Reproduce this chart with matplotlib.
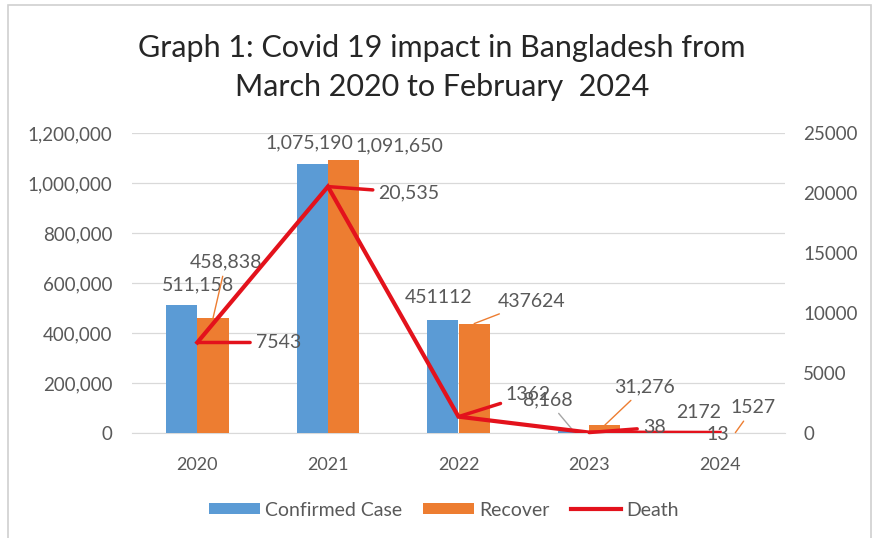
import matplotlib
matplotlib.use("Agg")
import matplotlib.pyplot as plt
from matplotlib.patches import Rectangle
import numpy as np

plt.rcParams['font.family'] = ['Lato', 'DejaVu Sans']

years = ["2020", "2021", "2022", "2023", "2024"]
confirmed = [511158, 1075190, 451112, 8168, 2172]
recover = [458838, 1091650, 437624, 31276, 1527]
death = [7543, 20535, 1362, 38, 13]

confirmed_labels = ["511,158", "1,075,190", "451112", "8,168", "2172"]
recover_labels = ["458,838", "1,091,650", "437624", "31,276", "1527"]
death_labels = ["7543", "20,535", "1362", "38", "13"]

left_ticks = [0, 200000, 400000, 600000, 800000, 1000000, 1200000]
right_ticks = [0, 5000, 10000, 15000, 20000, 25000]

BLUE = "#5b9bd5"
ORANGE = "#ed7d31"
RED = "#e3121c"
GREY_TXT = "#595959"
GRID = "#d9d9d9"

W, H = 876, 538
fig = plt.figure(figsize=(W / 100, H / 100), dpi=100)
fig.patch.set_facecolor("white")

# chart border
fig.patches.append(Rectangle((8 / W, -0.02), (871 - 8) / W, (538 - 5) / H + 0.02,
                             transform=fig.transFigure, fill=False,
                             edgecolor="#d0d0d0", lw=1.2))

ax = fig.add_axes([132 / W, 1 - 433 / H, (785 - 132) / W, 300 / H])
ax2 = ax.twinx()

x = np.arange(len(years))
bw = 0.24
ax.bar(x - bw / 2, confirmed, bw, color=BLUE, label="Confirmed Case", zorder=2)
ax.bar(x + bw / 2, recover, bw, color=ORANGE, label="Recover", zorder=2)
ln, = ax2.plot(x, death, color=RED, lw=3, label="Death", zorder=3,
               solid_joinstyle="miter")

ax.set_xlim(-0.5, 4.5)
ax.set_ylim(0, 1200000)
ax2.set_ylim(0, 25000)
ax.set_yticks(left_ticks)
ax.set_yticklabels([f"{v:,}" for v in left_ticks])
ax2.set_yticks(right_ticks)
ax2.set_yticklabels([str(v) for v in right_ticks])
ax.set_xticks(x)
ax.set_xticklabels(years)

for a in (ax, ax2):
    for s in a.spines.values():
        s.set_visible(False)
ax.spines["bottom"].set_visible(True)
ax.spines["bottom"].set_color(GRID)
ax.spines["bottom"].set_zorder(1)
ax.yaxis.grid(True, color=GRID, lw=0.9, zorder=0)
ax.set_axisbelow(True)
ax.tick_params(axis="y", length=0, pad=14, labelsize=13.5, labelcolor=GREY_TXT)
ax.tick_params(axis="x", length=0, pad=17, labelsize=13, labelcolor=GREY_TXT)
ax2.tick_params(axis="y", length=0, pad=13, labelsize=13.5, labelcolor=GREY_TXT)

ax2.set_zorder(ax.get_zorder() + 1)
ax2.patch.set_visible(False)

LBL = 14

def label(axis, xi, yv, txt, off, leader=None, lw=1.0):
    kw = dict(textcoords="offset pixels", ha="center", va="center",
              fontsize=LBL, color=GREY_TXT, zorder=5, annotation_clip=False)
    if leader:
        kw["arrowprops"] = dict(arrowstyle="-", color=leader, lw=lw,
                                shrinkA=2, shrinkB=0)
    axis.annotate(txt, xy=(xi, yv), xytext=off, **kw)

conf_off = [(16, 20), (-3, 21), (-4, 23), (-26, 31), (-5, 20)]
conf_lead = [None, None, None, "#a6a6a6", None]
rec_off = [(13, 56), (56, 14), (57, 22), (40, 38), (18, 25)]
rec_lead = [ORANGE, None, ORANGE, ORANGE, ORANGE]
death_off = [(81, 0), (81, -6), (70, 22), (65, 5), (-2, -2)]
death_lead = [RED, RED, RED, RED, None]

for i in range(len(years)):
    label(ax, x[i] - bw / 2, confirmed[i], confirmed_labels[i], conf_off[i], conf_lead[i])
    label(ax, x[i] + bw / 2, recover[i], recover_labels[i], rec_off[i], rec_lead[i])
    label(ax2, x[i], death[i], death_labels[i], death_off[i], death_lead[i], lw=2.5)

fig.text(442 / W, 1 - 48 / H, "Graph 1: Covid 19 impact in Bangladesh from",
         ha="center", va="center", fontsize=22, color="#262626")
fig.text(442 / W, 1 - 87 / H, "March 2020 to February  2024",
         ha="center", va="center", fontsize=22, color="#262626")

h1, l1 = ax.get_legend_handles_labels()
leg = fig.legend(h1 + [ln], l1 + ["Death"], loc="center", ncol=3,
                 bbox_to_anchor=(444 / W, 1 - 510 / H), frameon=False,
                 fontsize=14, handlelength=2.6, handleheight=0.5,
                 handletextpad=0.25, columnspacing=1.1, labelcolor=GREY_TXT)

fig.savefig("out.png", dpi=100, facecolor="white")
